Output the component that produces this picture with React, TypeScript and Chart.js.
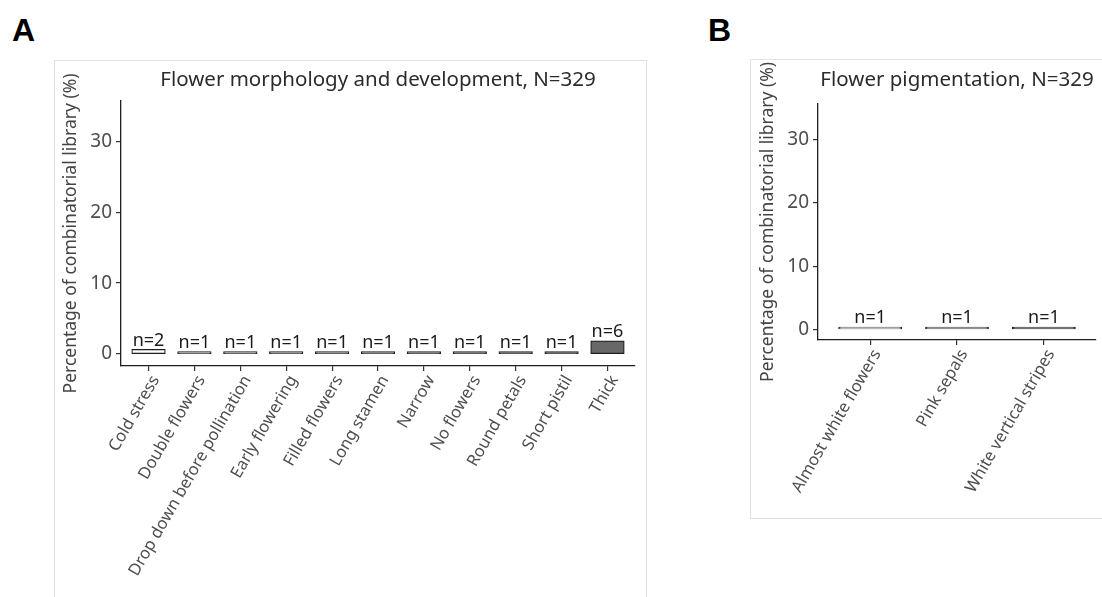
import React, { useEffect, useRef } from "react";
import { Chart, registerables } from "chart.js";

Chart.register(...registerables);

const FONT = "'Noto Sans', 'Open Sans', 'DejaVu Sans', sans-serif";

// ---- Data ----
const categoriesA = [
  "Cold stress",
  "Double flowers",
  "Drop down before pollination",
  "Early flowering",
  "Filled flowers",
  "Long stamen",
  "Narrow",
  "No flowers",
  "Round petals",
  "Short pistil",
  "Thick",
];
const percentA = [0.61, 0.3, 0.3, 0.3, 0.3, 0.3, 0.3, 0.3, 0.3, 0.3, 1.82];
const countsA = [2, 1, 1, 1, 1, 1, 1, 1, 1, 1, 6];
const fillsA = [
  "#ffffff",
  "#a0a0a0",
  "#9a9a9a",
  "#939393",
  "#8c8c8c",
  "#858585",
  "#7e7e7e",
  "#777777",
  "#707070",
  "#696969",
  "#686868",
];

const categoriesB = ["Almost white flowers", "Pink sepals", "White vertical stripes"];
const percentB = [0.3, 0.3, 0.3];
const countsB = [1, 1, 1];
const fillsB = ["#b4b4b4", "#858585", "#585858"];

const yTicks = [0, 10, 20, 30];
const yMin = -1.7;
const yMax = 35.7;

const titleA = "Flower morphology and development, N=329";
const titleB = "Flower pigmentation, N=329";
const yTitle = "Percentage of combinatorial library (%)";

// ---- Plugins ----
const centerTitle = {
  id: "centerTitle",
  afterDraw(chart: any, _args: any, opts: any) {
    const { ctx, chartArea } = chart;
    ctx.save();
    ctx.font = `${opts.size}px ${FONT}`;
    ctx.fillStyle = "#2b2b2b";
    ctx.textAlign = "center";
    ctx.textBaseline = "middle";
    ctx.fillText(opts.text, (chartArea.left + chartArea.right) / 2, opts.y);
    ctx.restore();
  },
};

const countLabels = {
  id: "countLabels",
  afterDatasetsDraw(chart: any, _args: any, opts: any) {
    const { ctx } = chart;
    const meta = chart.getDatasetMeta(0);
    ctx.save();
    ctx.font = `18px ${FONT}`;
    ctx.fillStyle = "#1a1a1a";
    ctx.textAlign = "center";
    ctx.textBaseline = "alphabetic";
    meta.data.forEach((bar: any, i: number) => {
      ctx.fillText("n=" + opts.counts[i], bar.x, bar.y - 4);
    });
    ctx.restore();
  },
};

interface PanelProps {
  cats: string[];
  values: number[];
  counts: number[];
  fills: string[];
  title: string;
  width: number;
  height: number;
  padTop: number;
  padRight: number;
  yAxisWidth: number;
  xAxisHeight: number;
  titleY: number;
}

function Panel(p: PanelProps) {
  const ref = useRef<HTMLCanvasElement | null>(null);
  useEffect(() => {
    if (!ref.current) return;
    const chart = new Chart(ref.current, {
      type: "bar",
      data: {
        datasets: [
          {
            data: p.values.map((v, i) => ({ x: i, y: v })),
            backgroundColor: p.fills,
            borderColor: "#1e1e1e",
            borderWidth: 1.2,
            borderSkipped: false,
            inflateAmount: 0.6,
            barPercentage: 0.72,
            categoryPercentage: 1,
          } as any,
        ],
      },
      options: {
        responsive: false,
        animation: false,
        devicePixelRatio: 1,
        layout: { padding: { top: p.padTop, right: p.padRight, left: 0, bottom: 0 } },
        plugins: {
          legend: { display: false },
          tooltip: { enabled: false },
          title: { display: false },
          centerTitle: { text: p.title, y: p.titleY, size: 20.5 },
          countLabels: { counts: p.counts },
        } as any,
        scales: {
          x: {
            type: "linear",
            offset: false,
            min: -0.6,
            max: p.cats.length - 0.4,
            afterBuildTicks: (s: any) => {
              s.ticks = p.cats.map((_, i) => ({ value: i }));
            },
            afterFit: (s: any) => {
              s.height = p.xAxisHeight;
            },
            ticks: {
              autoSkip: false,
              minRotation: 60,
              maxRotation: 60,
              labelOffset: 7,
              padding: 1,
              color: "#4d4d4d",
              font: { family: FONT, size: 16.5 },
              callback: (v: any) => p.cats[Math.round(Number(v))] ?? "",
            },
            grid: {
              offset: false,
              drawOnChartArea: false,
              drawTicks: true,
              tickLength: 5,
              color: "#333333",
              lineWidth: 1.2,
            },
            border: { display: true, color: "#1e1e1e", width: 1.3 },
          },
          y: {
            min: yMin,
            max: yMax,
            afterBuildTicks: (s: any) => {
              s.ticks = yTicks.map((v) => ({ value: v }));
            },
            afterFit: (s: any) => {
              s.width = p.yAxisWidth;
            },
            ticks: {
              padding: 4,
              color: "#4d4d4d",
              font: { family: FONT, size: 19 },
            },
            grid: { drawOnChartArea: false, drawTicks: true, tickLength: 5, color: "#333333", lineWidth: 1.2 },
            border: { display: true, color: "#1e1e1e", width: 1.3 },
            title: {
              display: true,
              text: yTitle,
              color: "#444444",
              font: { family: FONT, size: 17.5 },
              padding: { top: 7, bottom: 0 },
            },
          },
        },
      } as any,
      plugins: [centerTitle as any, countLabels as any],
    });
    return () => chart.destroy();
  }, []);
  return (
    <canvas
      ref={ref}
      width={p.width}
      height={p.height}
      style={{ display: "block", width: p.width, height: p.height }}
    />
  );
}

export default function App() {
  const letter: React.CSSProperties = {
    position: "absolute",
    fontFamily: "'Liberation Sans', Arial, sans-serif",
    fontWeight: 700,
    fontSize: 32,
    lineHeight: 1,
    color: "#000",
  };
  return (
    <div
      style={{
        position: "absolute",
        left: 0,
        top: 0,
        width: 1102,
        height: 597,
        overflow: "hidden",
        background: "#fff",
      }}
    >
      <div style={{ ...letter, left: 12, top: 14 }}>A</div>
      <div style={{ ...letter, left: 708, top: 14 }}>B</div>

      <div
        style={{
          position: "absolute",
          left: 54,
          top: 60,
          width: 593,
          height: 600,
          border: "1px solid #e2e2e2",
          boxSizing: "border-box",
        }}
      />
      <div
        style={{
          position: "absolute",
          left: 750,
          top: 59,
          width: 400,
          height: 460,
          border: "1px solid #e2e2e2",
          boxSizing: "border-box",
        }}
      />

      <div style={{ position: "absolute", left: 54, top: 60 }}>
        <Panel
          cats={categoriesA}
          values={percentA}
          counts={countsA}
          fills={fillsA}
          title={titleA}
          width={592}
          height={537}
          padTop={41}
          padRight={11}
          yAxisWidth={67}
          xAxisHeight={231}
          titleY={20}
        />
      </div>
      <div style={{ position: "absolute", left: 751, top: 50 }}>
        <Panel
          cats={categoriesB}
          values={percentB}
          counts={countsB}
          fills={fillsB}
          title={titleB}
          width={350}
          height={467}
          padTop={54}
          padRight={5}
          yAxisWidth={67}
          xAxisHeight={177}
          titleY={30}
        />
      </div>
    </div>
  );
}
